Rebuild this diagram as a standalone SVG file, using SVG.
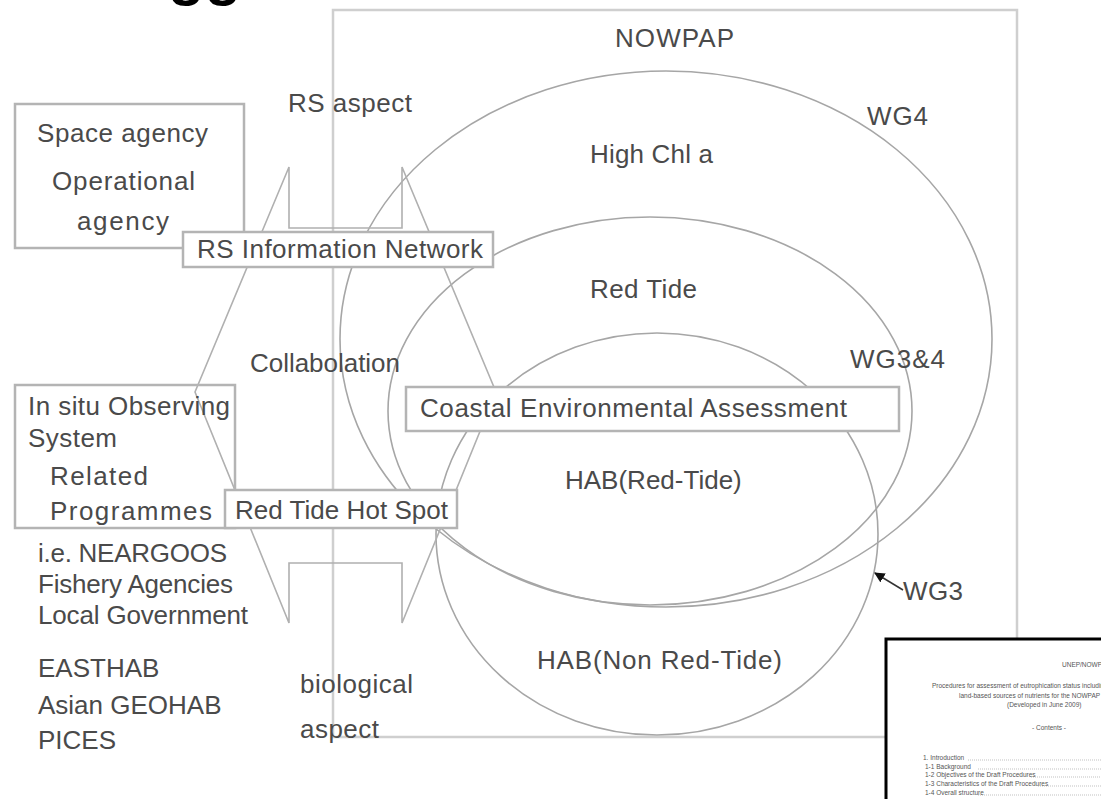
<svg xmlns="http://www.w3.org/2000/svg" width="1101" height="799" viewBox="0 0 1101 799">
<style>
.t{font-family:"Liberation Sans",Arial,sans-serif;font-size:26px;fill:#4a4a4a}
.box{fill:#fff;stroke:#b4b4b4;stroke-width:2.5}
.ell{fill:none;stroke:#a6a6a6;stroke-width:1.6}
.hg{fill:none;stroke:#b0b0b0;stroke-width:1.6}
.d{font-family:"Liberation Sans",Arial,sans-serif;fill:#555;font-size:6.5px}
.lead{stroke:#999;stroke-width:0.6;stroke-dasharray:1 1}
</style>
<defs>
<marker id="ah" viewBox="0 0 10 10" refX="9" refY="5" markerWidth="7" markerHeight="7" orient="auto">
<path d="M0,0 L10,5 L0,10 z" fill="#111"/>
</marker>
</defs>
<rect width="1101" height="799" fill="#fff"/>
<text x="168" y="-6" font-family="Liberation Sans,Arial,sans-serif" font-weight="bold" font-size="60" fill="#000">gg</text>

<g id="nowpap">
<rect x="333" y="10" width="684" height="727" fill="none" stroke="#cfcfcf" stroke-width="2.5"/>
<text class="t" x="615" y="47" textLength="119">NOWPAP</text>
</g>

<g id="ellipses">
<ellipse id="wg4" class="ell" cx="666" cy="339" rx="326" ry="268"/>
<ellipse id="wg34" class="ell" cx="650" cy="411" rx="262" ry="194"/>
<ellipse id="wg3" class="ell" cx="657" cy="534" rx="221" ry="201"/>
</g>

<g id="hourglass">
<polygon class="hg" points="289,167 195,392 289,623 289,563 402,563 402,623 496,392 402,167 402,228 289,228"/>
</g>

<g id="insitu">
<rect x="15" y="385" width="220" height="143" fill="none" stroke="#b4b4b4" stroke-width="2.5"/>
<text class="t" x="28" y="415" textLength="202">In situ Observing</text>
<text class="t" x="28" y="447" textLength="89">System</text>
<text class="t" x="50" y="485" textLength="98">Related</text>
<text class="t" x="50" y="520" textLength="162">Programmes</text>
</g>

<g id="space-agency">
<rect class="box" x="15" y="104" width="229" height="144"/>
<text class="t" x="37" y="142" textLength="171">Space agency</text>
<text class="t" x="52" y="190" textLength="143">Operational</text>
<text class="t" x="77" y="230" textLength="92">agency</text>
</g>

<g id="rs-network">
<rect class="box" x="183" y="232" width="310" height="35"/>
<text class="t" x="197" y="258" textLength="286">RS Information Network</text>
</g>

<g id="red-tide-hotspot">
<rect class="box" x="225" y="490" width="232" height="38"/>
<text class="t" x="235" y="519" textLength="213">Red Tide Hot Spot</text>
</g>

<g id="coastal">
<rect class="box" x="406" y="387" width="493" height="44"/>
<text class="t" x="420" y="417" textLength="427">Coastal Environmental Assessment</text>
</g>

<g id="labels">
<text class="t" x="288" y="112" textLength="124">RS aspect</text>
<text class="t" x="867" y="125" textLength="61">WG4</text>
<text class="t" x="590" y="163" textLength="123">High Chl a</text>
<text class="t" x="590" y="298" textLength="107">Red Tide</text>
<text class="t" x="250" y="372" textLength="150">Collabolation</text>
<text class="t" x="850" y="368" textLength="95">WG3&amp;4</text>
<text class="t" x="565" y="489">HAB(Red-Tide)</text>
<text class="t" x="903" y="600" textLength="60">WG3</text>
<text class="t" x="537" y="669" textLength="245">HAB(Non Red-Tide)</text>
<text class="t" x="38" y="562" textLength="189">i.e. NEARGOOS</text>
<text class="t" x="38" y="593" textLength="195">Fishery Agencies</text>
<text class="t" x="38" y="624" textLength="210">Local Government</text>
<text class="t" x="38" y="677">EASTHAB</text>
<text class="t" x="38" y="714">Asian GEOHAB</text>
<text class="t" x="38" y="749">PICES</text>
<text class="t" x="300" y="693" textLength="113">biological</text>
<text class="t" x="300" y="738" textLength="79">aspect</text>
</g>

<g id="connectors">
<line x1="903" y1="590" x2="875" y2="573" stroke="#333" stroke-width="1.5" marker-end="url(#ah)"/>
</g>

<g id="doc-thumbnail">
<rect x="886" y="639" width="240" height="180" fill="#fff" stroke="#000" stroke-width="3"/>
<text class="d" x="1062" y="667">UNEP/NOWPAP</text>
<text class="d" x="932" y="688">Procedures for assessment of eutrophication status including</text>
<text class="d" x="959" y="698">land-based sources of nutrients for the NOWPAP</text>
<text class="d" x="1007" y="707" font-size="7">(Developed in June 2009)</text>
<text class="d" x="1032" y="730" font-size="8">- Contents -</text>
<text class="d" x="923" y="760" font-size="5.5">1.   Introduction</text>
<line class="lead" x1="968" y1="760" x2="1101" y2="760"/>
<text class="d" x="925" y="769" font-size="5.5">1-1    Background</text>
<line class="lead" x1="978" y1="769" x2="1101" y2="769"/>
<text class="d" x="925" y="777" font-size="5.5">1-2    Objectives of the Draft Procedures</text>
<line class="lead" x1="1031" y1="777" x2="1101" y2="777"/>
<text class="d" x="925" y="786" font-size="5.5">1-3    Characteristics of the Draft Procedures</text>
<line class="lead" x1="1038" y1="786" x2="1101" y2="786"/>
<text class="d" x="925" y="795" font-size="5.5">1-4    Overall structure</text>
<line class="lead" x1="978" y1="795" x2="1101" y2="795"/>
</g>
</svg>
